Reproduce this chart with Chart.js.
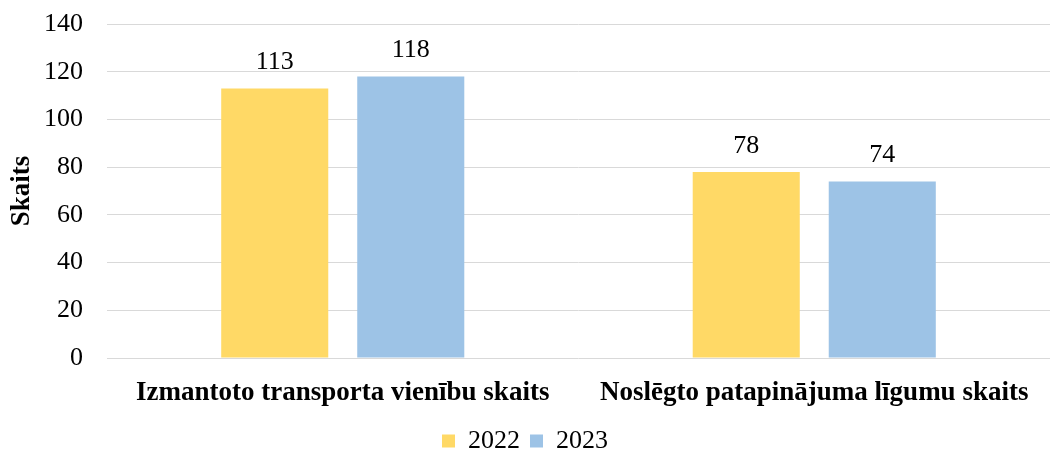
<!DOCTYPE html>
<html>
<head>
<meta charset="utf-8">
<script src="https://cdn.jsdelivr.net/npm/chart.js@4"></script>
<style>
  html, body { margin: 0; padding: 0; background: #fff; }
  #wrap { width: 1051px; height: 452px; }
</style>
</head>
<body>
<div id="wrap"><canvas id="graf"></canvas></div>
<script>
// dati no attēla
var kategorijas = ["Izmantoto transporta vienību skaits", "Noslēgto patapinājuma līgumu skaits"];
var gadi = ["2022", "2023"];
var vertibas2022 = [113, 78];
var vertibas2023 = [118, 74];
var asuTicks = [0, 20, 40, 60, 80, 100, 120, 140];

var fonts = "'Times New Roman', 'Liberation Serif', serif";

// vērtības virs stabiņiem
var vertibuUzraksti = {
    id: 'vertibuUzraksti',
    afterDatasetsDraw: function (chart) {
        var ctx = chart.ctx;
        ctx.save();
        ctx.font = '26px ' + fonts;
        ctx.fillStyle = '#000';
        ctx.textAlign = 'center';
        ctx.textBaseline = 'bottom';
        chart.data.datasets.forEach(function (ds, i) {
            chart.getDatasetMeta(i).data.forEach(function (bar, j) {
                ctx.fillText(ds.data[j], bar.x, bar.y - 13);
            });
        });
        ctx.restore();
    }
};

function createBarChart() {
    var ctx = document.getElementById('graf').getContext('2d');
    new Chart(ctx, {
        type: 'bar',
        data: {
            labels: kategorijas,
            datasets: [{
                label: gadi[0],
                data: vertibas2022,
                backgroundColor: '#FFD966',
                categoryPercentage: 0.577,
                barPercentage: 0.787
            }, {
                label: gadi[1],
                data: vertibas2023,
                backgroundColor: '#9DC3E6',
                categoryPercentage: 0.577,
                barPercentage: 0.787
            }]
        },
        options: {
            responsive: true,
            maintainAspectRatio: false,
            animation: false,
            layout: { autoPadding: false, padding: { top: 0, right: 1, left: 0, bottom: -12 } },
            plugins: {
                legend: {
                    display: true,
                    position: 'bottom',
                    labels: {
                        font: { family: fonts, size: 26 },
                        color: '#000',
                        boxWidth: 13,
                        boxHeight: 13,
                        padding: 10
                    }
                },
                tooltip: { enabled: false }
            },
            scales: {
                y: {
                    min: 0,
                    max: 140,
                    afterBuildTicks: function (axis) {
                        axis.ticks = asuTicks.map(function (v) { return { value: v }; });
                    },
                    afterFit: function (axis) {
                        axis.width = 107;
                        axis.paddingTop = 24;
                    },
                    border: { display: false },
                    grid: { color: '#d9d9d9', lineWidth: 1, drawTicks: false },
                    ticks: {
                        font: { family: fonts, size: 26 },
                        color: '#000',
                        padding: 24
                    },
                    title: {
                        display: true,
                        text: 'Skaits',
                        font: { family: fonts, size: 27, weight: 'bold' },
                        color: '#000',
                        padding: { top: 6, bottom: 0 }
                    }
                },
                x: {
                    afterFit: function (axis) { axis.height = 60; },
                    border: { display: false },
                    grid: { display: false, drawTicks: false },
                    ticks: {
                        font: { family: fonts, size: 27, weight: 'bold' },
                        color: '#000',
                        padding: 19
                    }
                }
            }
        },
        plugins: [vertibuUzraksti]
    });
}

document.addEventListener('DOMContentLoaded', function () {
    createBarChart();
});
</script>
</body>
</html>
